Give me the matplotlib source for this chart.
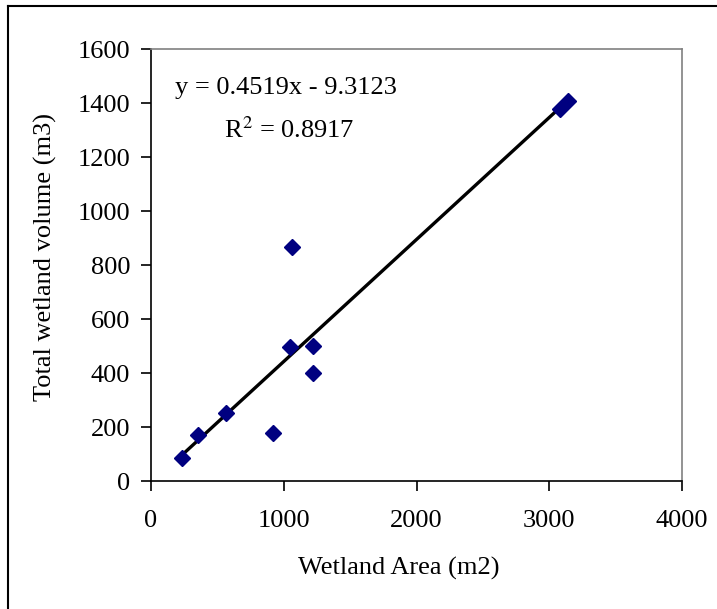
import numpy as np
import matplotlib.pyplot as plt
from matplotlib.lines import Line2D

# wetland area (m2) vs total volume (m3)
area = [231, 355, 562, 917, 1045, 1059, 1221, 1221, 3079, 3141]
volume = [85, 169, 252, 179, 496, 865, 500, 399, 1376, 1408]

slope, intercept = 0.4519, -9.3123
r2 = 0.8917

x_ticks = [0, 1000, 2000, 3000, 4000]
y_ticks = [0, 200, 400, 600, 800, 1000, 1200, 1400, 1600]

plt.rcParams["font.family"] = ["Liberation Serif", "DejaVu Serif"]
FS = 19

fig = plt.figure(figsize=(7.17, 6.09), dpi=100)
W, H = 717, 609
ax = fig.add_axes([151 / W, 1 - 481 / H, (682 - 151) / W, (481 - 49) / H])

# trendline over the data range
xs = np.array([min(area), max(area)])
ax.plot(xs, slope * xs + intercept, color="black", lw=2.4, zorder=2)
ax.plot(area, volume, linestyle="none", marker="D", ms=8,
        color="#000080", zorder=3)

ax.set_xlim(0, 4000)
ax.set_ylim(0, 1600)
ax.set_xticks(x_ticks)
ax.set_yticks(y_ticks)
ax.tick_params(direction="out", length=7, width=1.2, labelsize=FS,
               color="black")
ax.tick_params(axis="x", pad=14)
ax.tick_params(axis="y", pad=8)

for side in ["left", "bottom"]:
    ax.spines[side].set_color("black")
    ax.spines[side].set_linewidth(1.2)
for side in ["top", "right"]:
    ax.spines[side].set_color("#808080")
    ax.spines[side].set_linewidth(1.2)

fig.text(298 / W, 1 - 568 / H, "Wetland Area (m2)", fontsize=FS,
         ha="left", va="center")
fig.text(45 / W, 1 - 257 / H, "Total wetland volume (m3)", fontsize=FS,
         ha="center", va="center", rotation=90)

fig.text(175 / W, 1 - 88 / H, "y = 0.4519x - 9.3123", fontsize=FS,
         ha="left", va="center")
fig.text(224 / W, 1 - 130 / H, "R$^2$ = %.4f" % r2, fontsize=FS,
         ha="left", va="center", math_fontfamily="stix")

# outer chart-area border (only left and top are inside the crop)
fig.add_artist(Line2D([8 / W, 8 / W], [0, 1 - 6 / H], color="black", lw=1.5,
                      transform=fig.transFigure))
fig.add_artist(Line2D([8 / W, 1], [1 - 6 / H, 1 - 6 / H], color="black",
                      lw=1.5, transform=fig.transFigure))

fig.savefig("out.png", dpi=100)
